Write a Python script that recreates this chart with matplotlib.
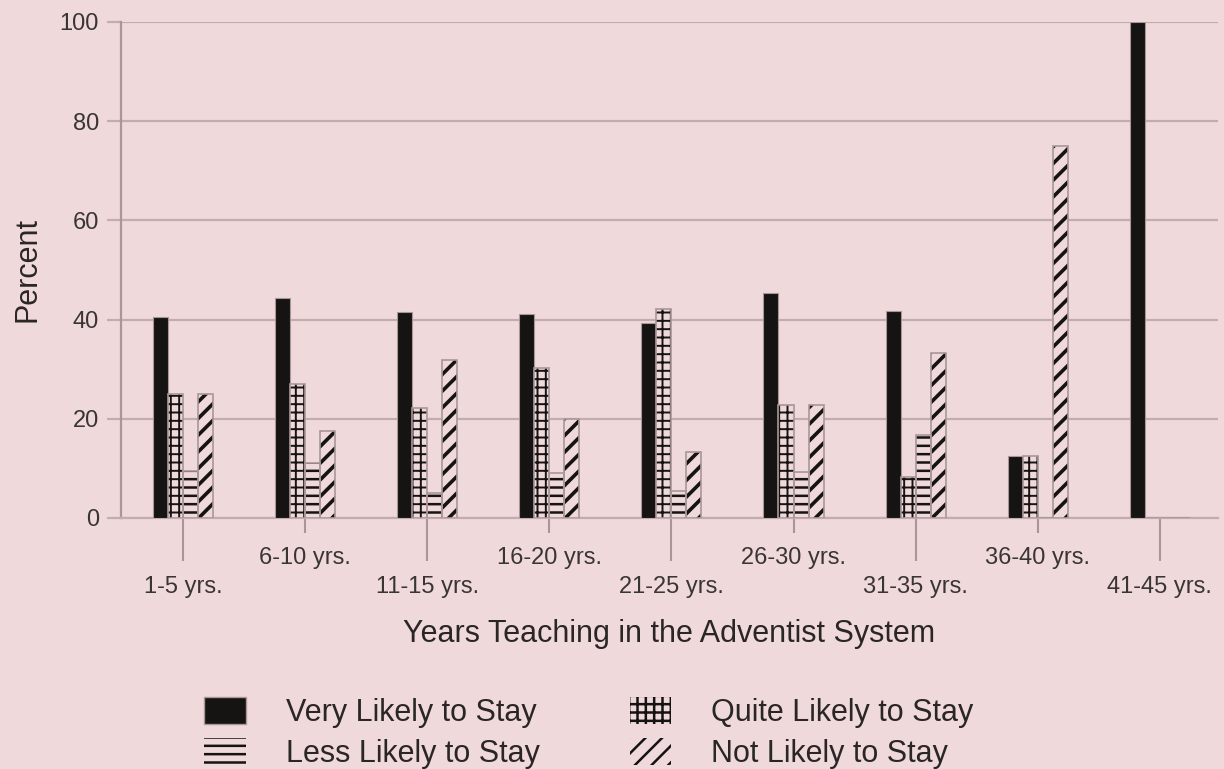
import matplotlib
matplotlib.use('Agg')
import matplotlib.pyplot as plt
import numpy as np
from matplotlib.patches import Patch

plt.rcParams['font.family'] = ['Liberation Sans', 'DejaVu Sans']

# Data (percent of teachers in each group)
groups = ['1-5 yrs.', '6-10 yrs.', '11-15 yrs.', '16-20 yrs.', '21-25 yrs.',
          '26-30 yrs.', '31-35 yrs.', '36-40 yrs.', '41-45 yrs.']
very_likely = [40.6, 44.4, 41.5, 41.2, 39.4, 45.4, 41.7, 12.5, 100]
quite_likely = [25.0, 27.1, 22.2, 30.3, 42.1, 22.7, 8.3, 12.5, 0]
less_likely = [9.4, 11.1, 5.0, 9.0, 5.5, 9.2, 16.7, 0, 0]
not_likely = [25.0, 17.5, 31.9, 20.0, 13.3, 22.7, 33.3, 75.0, 0]

series_labels = ['Very Likely to Stay', 'Quite Likely to Stay',
                 'Less Likely to Stay', 'Not Likely to Stay']

bg = '#f0d9db'
grid_col = '#c2acae'
ink = '#161313'
edge = '#a89698'

fig = plt.figure(figsize=(12.24, 7.69), dpi=100, facecolor=bg)
ax = fig.add_axes([0.0989, 0.3264, 0.8962, 0.6450], facecolor=bg)

x = np.arange(len(groups))
w = 0.123
series = [very_likely, quite_likely, less_likely, not_likely]
hatches = [None, '++', '--', '//']
hatch_lw = [0, 1.4, 1.8, 2.6]

for k, (vals, hatch) in enumerate(zip(series, hatches)):
    pos = x + (k - 1.5) * w
    if hatch is None:
        ax.bar(pos, vals, w, color=ink, edgecolor=edge, linewidth=0.8, zorder=3)
    else:
        plt.rcParams['hatch.linewidth'] = hatch_lw[k]
        ax.bar(pos, vals, w, facecolor=bg, edgecolor=ink, linewidth=0,
               hatch=hatch, zorder=3)
        ax.bar(pos, vals, w, fill=False, edgecolor=edge, linewidth=1.2, zorder=4)

ax.set_ylim(0, 100)
ax.set_xlim(-0.508, 8.477)
ax.set_yticks([0, 20, 40, 60, 80, 100])
ax.yaxis.grid(True, color=grid_col, linewidth=1.6)
ax.set_axisbelow(True)

for s in ['top', 'right']:
    ax.spines[s].set_visible(False)
ax.spines['left'].set_color(edge)
ax.spines['left'].set_linewidth(1.6)
ax.spines['bottom'].set_color(grid_col)
ax.spines['bottom'].set_linewidth(1.6)

# staggered category labels: long ticks on even groups, short on odd
ax.set_xticks(x[::2])
ax.set_xticklabels(groups[::2])
ax.set_xticks(x[1::2], minor=True)
ax.set_xticklabels(groups[1::2], minor=True)
ax.tick_params(axis='x', which='major', length=31, width=1.5, color=edge,
               pad=11, labelsize=17, labelcolor='#3a3535')
ax.tick_params(axis='x', which='minor', length=11, width=1.5, color=edge,
               pad=10, labelsize=17, labelcolor='#3a3535')
ax.tick_params(axis='y', length=10, width=1.6, color=grid_col, pad=6,
               labelsize=17, labelcolor='#3a3535')

ax.set_xlabel('Years Teaching in the Adventist System', fontsize=22,
              color='#2a2626', labelpad=15)
ax.set_ylabel('Percent', fontsize=22, color='#2a2626', labelpad=12)

plt.rcParams['hatch.linewidth'] = 1.8
handles = [Patch(facecolor=ink, edgecolor=edge),
           Patch(facecolor=bg, edgecolor=ink, hatch='--', linewidth=0),
           Patch(facecolor=bg, edgecolor=ink, hatch='++', linewidth=0),
           Patch(facecolor=bg, edgecolor=ink, hatch='//', linewidth=0)]
labels = [series_labels[0], series_labels[2], series_labels[1], series_labels[3]]
fig.legend(handles, labels, ncol=2, frameon=False, fontsize=22,
           loc='upper left', bbox_to_anchor=(204 / 1224, 1 - 697 / 769),
           borderpad=0, borderaxespad=0, handlelength=1.37, handleheight=1.0,
           handletextpad=1.3, columnspacing=2.95, labelspacing=0.32,
           labelcolor='#2a2626')

fig.savefig('out.png', dpi=100, facecolor=bg)
